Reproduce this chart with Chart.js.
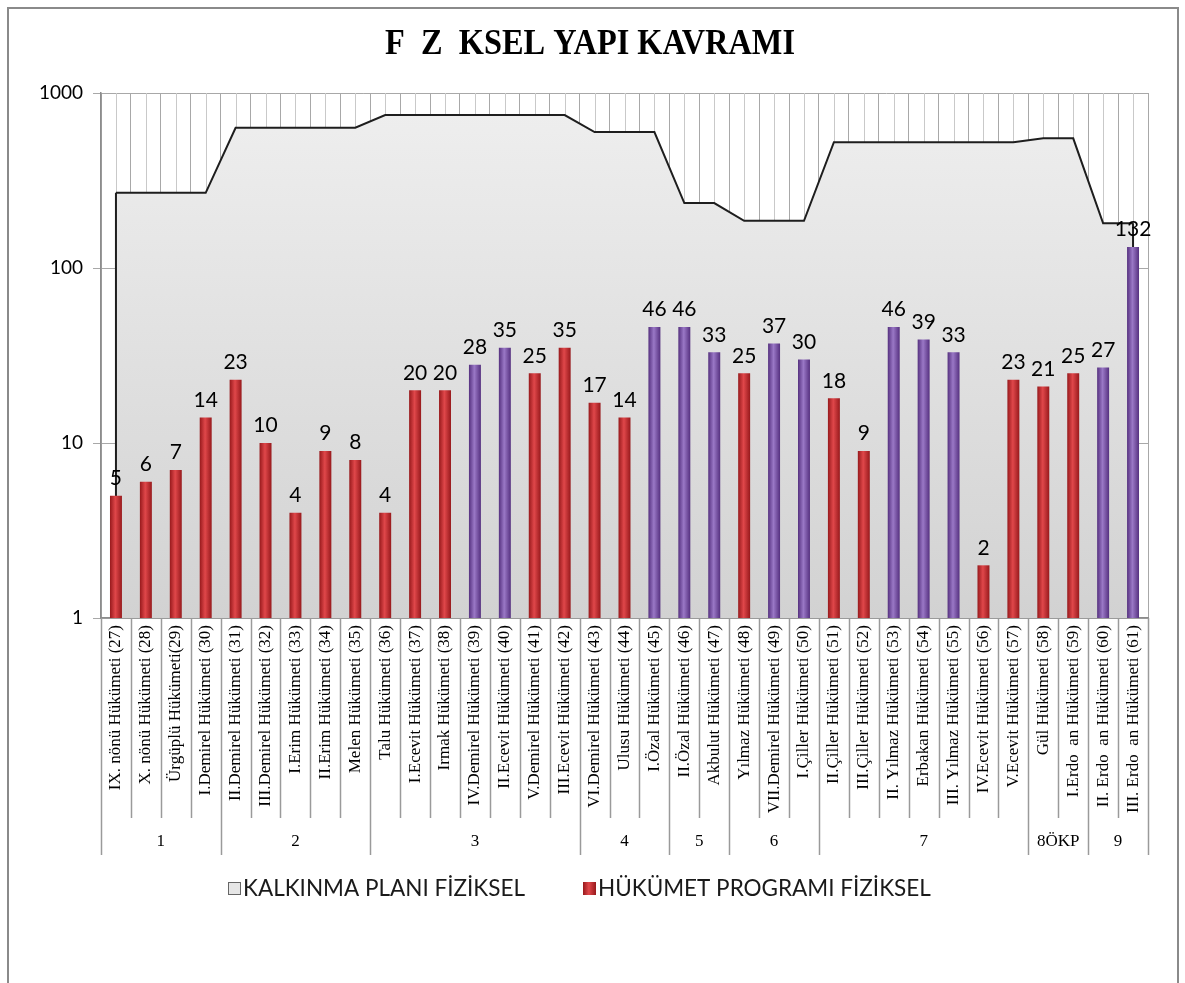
<!DOCTYPE html>
<html>
<head>
<meta charset="utf-8">
<script src="https://cdn.jsdelivr.net/npm/chart.js@4.4.0/dist/chart.umd.min.js"></script>
<style>
    html, body { margin: 0; padding: 0; background: #fff; }
    #kutu { position: absolute; left: 0; top: 0; width: 1185px; height: 983px; }
</style>
</head>
<body>
<div id="kutu"><canvas id="myChart" width="1185" height="983"></canvas></div>
<script>
// hükümetler (kategori)
var hukumetler = [
    "IX. nönü Hükümeti (27)", "X. nönü Hükümeti (28)", "Ürgüplü Hükümeti(29)", "I.Demirel Hükümeti (30)",
    "II.Demirel Hükümeti (31)", "III.Demirel Hükümeti (32)", "I.Erim Hükümeti (33)", "II.Erim Hükümeti (34)",
    "Melen Hükümeti (35)", "Talu Hükümeti (36)", "I.Ecevit Hükümeti (37)", "Irmak Hükümeti (38)",
    "IV.Demirel Hükümeti (39)", "II.Ecevit Hükümeti (40)", "V.Demirel Hükümeti (41)", "III.Ecevit Hükümeti (42)",
    "VI.Demirel Hükümeti (43)", "Ulusu Hükümeti (44)", "I.Özal Hükümeti (45)", "II.Özal Hükümeti (46)",
    "Akbulut Hükümeti (47)", "Yılmaz Hükümeti (48)", "VII.Demirel Hükümeti (49)", "I.Çiller Hükümeti (50)",
    "II.Çiller Hükümeti (51)", "III.Çiller Hükümeti (52)", "II. Yılmaz Hükümeti (53)", "Erbakan Hükümeti (54)",
    "III. Yılmaz Hükümeti (55)", "IV.Ecevit Hükümeti (56)", "V.Ecevit Hükümeti (57)", "Gül Hükümeti (58)",
    "I.Erdo  an Hükümeti (59)", "II. Erdo  an Hükümeti (60)", "III. Erdo  an Hükümeti (61)"
];
// kalkınma planları (2. seviye)
var planEtiketleri = ["1", "2", "3", "4", "5", "6", "7", "8ÖKP", "9"];
var planUzunluk = [4, 5, 7, 3, 2, 3, 7, 2, 2];

var planFiziksel = [
    269, 269, 269, 269,
    633, 633, 633, 633, 633,
    748, 748, 748, 748, 748, 748, 748,
    598, 598, 598,
    235, 235,
    186, 186, 186,
    523, 523, 523, 523, 523, 523, 523,
    551, 551,
    180, 180
];
var programFiziksel = [
    5, 6, 7, 14, 23, 10, 4, 9, 8, 4, 20, 20, 28, 35, 25, 35, 17, 14,
    46, 46, 33, 25, 37, 30, 18, 9, 46, 39, 33, 2, 23, 21, 25, 27, 132
];
// mor çubuklar (1 = mor)
var mor = [
    0, 0, 0, 0, 0, 0, 0, 0, 0, 0, 0, 0, 1, 1, 0, 0, 0, 0,
    1, 1, 1, 0, 1, 1, 0, 0, 1, 1, 1, 0, 0, 0, 0, 1, 1
];

function cubukRengi(c) {
    var ch = c.chart;
    var renk = mor[c.dataIndex] ? ['#55307f', '#9a78c6', '#55307f'] : ['#97191c', '#e0474a', '#97191c'];
    if (!ch.scales.x || c.type !== 'data') return renk[1];
    var cx = ch.scales.x.getPixelForValue(c.dataIndex);
    if (!isFinite(cx)) return renk[1];
    var g = ch.ctx.createLinearGradient(cx - 6, 0, cx + 6, 0);
    g.addColorStop(0, renk[0]);
    g.addColorStop(0.45, renk[1]);
    g.addColorStop(1, renk[2]);
    return g;
}

function alanRengi(c) {
    var ca = c.chart.chartArea;
    if (!ca || !isFinite(ca.top) || !isFinite(ca.bottom)) return '#e2e2e2';
    var g = c.chart.ctx.createLinearGradient(0, ca.top, 0, ca.bottom);
    g.addColorStop(0, '#efefef');
    g.addColorStop(1, '#d2d2d2');
    return g;
}

var cizimler = {
    id: 'cizimler',
    beforeDatasetsDraw: function(chart) {
        // kategori ortalarındaki ince dikey çizgiler
        var ctx = chart.ctx, x = chart.scales.x, ca = chart.chartArea;
        ctx.save();
        ctx.strokeStyle = '#c9c9c9';
        ctx.lineWidth = 1;
        for (var i = 0; i < hukumetler.length; i++) {
            var px = Math.round(x.getPixelForValue(i)) + 0.5;
            ctx.beginPath();
            ctx.moveTo(px, ca.top);
            ctx.lineTo(px, ca.bottom);
            ctx.stroke();
        }
        ctx.restore();
    },
    afterDatasetDraw: function(chart, args) {
        if (args.index !== 0) return;
        // alanın iki yan kenarı
        var ctx = chart.ctx, pts = args.meta.data, ca = chart.chartArea;
        ctx.save();
        ctx.strokeStyle = '#1e1e1e';
        ctx.lineWidth = 2;
        [pts[0], pts[pts.length - 1]].forEach(function(p) {
            ctx.beginPath();
            ctx.moveTo(p.x, p.y);
            ctx.lineTo(p.x, ca.bottom);
            ctx.stroke();
        });
        ctx.restore();
    },
    afterDatasetsDraw: function(chart) {
        var ctx = chart.ctx;
        var meta = chart.getDatasetMeta(1);
        ctx.save();
        ctx.fillStyle = '#000';
        ctx.font = '21px Lato';
        ctx.textAlign = 'center';
        ctx.textBaseline = 'bottom';
        meta.data.forEach(function(bar, i) {
            ctx.fillText(programFiziksel[i], bar.x, bar.y - 7);
        });
        ctx.restore();
    },
    afterDraw: function(chart) {
        var ctx = chart.ctx, x = chart.scales.x, ca = chart.chartArea;
        var n = hukumetler.length;
        var w = (x.right - x.left) / n;
        ctx.save();
        // kategori ayraçları
        ctx.strokeStyle = '#9a9a9a';
        ctx.lineWidth = 1.5;
        var sinirlar = [0];
        var t = 0;
        planUzunluk.forEach(function(u) { t += u; sinirlar.push(t); });
        for (var k = 0; k <= n; k++) {
            var px = Math.round(x.left + k * w) + 0.5;
            var uzun = sinirlar.indexOf(k) >= 0;
            ctx.beginPath();
            ctx.moveTo(px, ca.bottom);
            ctx.lineTo(px, ca.bottom + (uzun ? 237 : 200));
            ctx.stroke();
        }
        // plan etiketleri
        ctx.fillStyle = '#000';
        ctx.font = '17px "Liberation Serif"';
        ctx.textAlign = 'center';
        ctx.textBaseline = 'middle';
        for (var j = 0; j < planEtiketleri.length; j++) {
            var orta = x.left + (sinirlar[j] + sinirlar[j + 1]) / 2 * w;
            ctx.fillText(planEtiketleri[j], orta, ca.bottom + 224);
        }
        // başlık (dar, kalın)
        var baslik = 'F  Z  KSEL YAPI KAVRAMI';
        ctx.font = 'bold 35px "Liberation Serif"';
        var bw = ctx.measureText(baslik).width;
        ctx.save();
        ctx.translate(590, 45);
        ctx.scale(410 / bw, 1);
        ctx.fillText(baslik, 0, 0);
        ctx.restore();
        // lejant
        ctx.font = '22.5px Lato';
        ctx.textAlign = 'left';
        ctx.fillStyle = '#e6e6e6';
        ctx.fillRect(228, 882, 13, 13);
        ctx.strokeStyle = '#666';
        ctx.lineWidth = 1;
        ctx.strokeRect(228.5, 882.5, 12, 12);
        ctx.fillStyle = '#1a1a1a';
        ctx.fillText('KALKINMA PLANI FİZİKSEL', 243, 889);
        var g = ctx.createLinearGradient(583, 0, 596, 0);
        g.addColorStop(0, '#97191c');
        g.addColorStop(0.45, '#e0474a');
        g.addColorStop(1, '#97191c');
        ctx.fillStyle = g;
        ctx.fillRect(583, 882, 13, 13);
        ctx.fillStyle = '#1a1a1a';
        ctx.fillText('HÜKÜMET PROGRAMI FİZİKSEL', 598, 889);
        // çerçeve
        ctx.strokeStyle = '#8a8a8a';
        ctx.lineWidth = 2;
        ctx.strokeRect(8, 8, 1170, 1000);
        ctx.restore();
    }
};

config = {
    type: 'bar',
    data: {
        labels: hukumetler,
        datasets: [{
            type: 'line',
            label: 'KALKINMA PLANI FİZİKSEL',
            data: planFiziksel,
            fill: 'start',
            backgroundColor: alanRengi,
            borderColor: '#1e1e1e',
            borderWidth: 2,
            pointRadius: 0,
            tension: 0,
            order: 2
        },
        {
            label: 'HÜKÜMET PROGRAMI FİZİKSEL',
            data: programFiziksel,
            backgroundColor: cubukRengi,
            barPercentage: 0.4,
            categoryPercentage: 1.0,
            order: 1
        }]
    },
    options: {
        responsive: false,
        animation: false,
        layout: {
            padding: { left: 0, right: 37, top: 93, bottom: 128 }
        },
        plugins: {
            legend: { display: false },
            title: { display: false },
            tooltip: { enabled: false }
        },
        scales: {
            x: {
                offset: true,
                grid: { color: '#a8a8a8', offset: true, drawTicks: false },
                border: { color: '#8c8c8c', width: 1.5 },
                ticks: {
                    autoSkip: false,
                    maxRotation: 90,
                    minRotation: 90,
                    padding: 7,
                    color: '#000',
                    font: { family: '"Liberation Serif"', size: 17 }
                },
                afterFit: function(s) { s.height = 237; }
            },
            y: {
                type: 'logarithmic',
                min: 1,
                max: 1000,
                grid: { color: '#a8a8a8', tickLength: 8 },
                border: { color: '#8c8c8c', width: 1.5 },
                ticks: {
                    padding: 10,
                    color: '#000',
                    font: { family: 'Lato', size: 19 },
                    callback: function(v) { return String(v); }
                },
                afterBuildTicks: function(s) {
                    s.ticks = [1, 10, 100, 1000].map(function(v) { return { value: v }; });
                },
                afterFit: function(s) { s.width = 101; }
            }
        }
    },
    plugins: [cizimler]
};

const ctx = document.getElementById('myChart');
const myChart = new Chart(ctx, config);
</script>
</body>
</html>
